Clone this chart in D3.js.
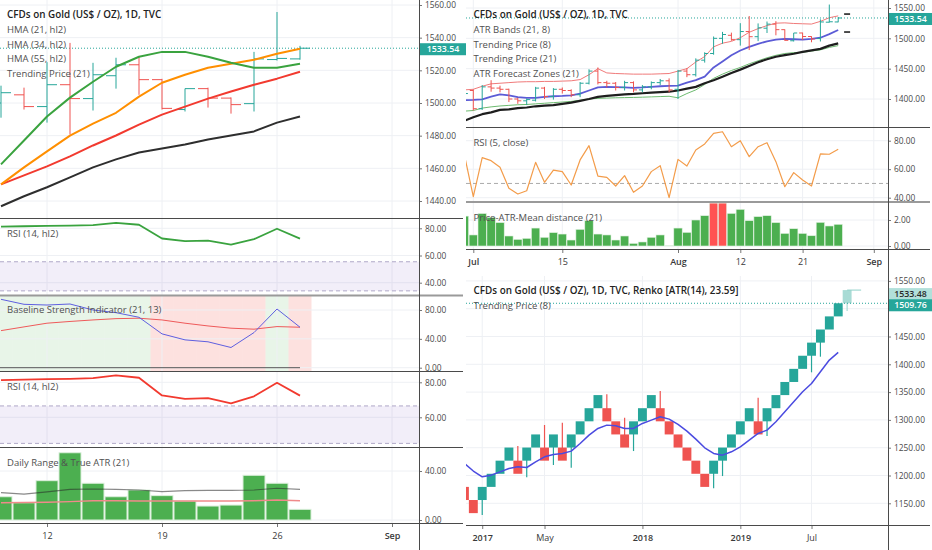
<!DOCTYPE html>
<html>
<head>
<meta charset="utf-8">
<script src="https://cdn.jsdelivr.net/npm/d3@7"></script>
<style>
  body { margin: 0; background: #fff; }
</style>
</head>
<body>
<script>
// ---- daily data, Jun 28 .. Aug 27 2019 (index 0 = Jun 28) ----
var dates = ["2019-06-28",
  "2019-07-01","2019-07-02","2019-07-03","2019-07-04","2019-07-05",
  "2019-07-08","2019-07-09","2019-07-10","2019-07-11","2019-07-12",
  "2019-07-15","2019-07-16","2019-07-17","2019-07-18","2019-07-19",
  "2019-07-22","2019-07-23","2019-07-24","2019-07-25","2019-07-26",
  "2019-07-29","2019-07-30","2019-07-31","2019-08-01","2019-08-02",
  "2019-08-05","2019-08-06","2019-08-07","2019-08-08","2019-08-09",
  "2019-08-12","2019-08-13","2019-08-14","2019-08-15","2019-08-16",
  "2019-08-19","2019-08-20","2019-08-21","2019-08-22","2019-08-23",
  "2019-08-26","2019-08-27"];

var open  = [1409, 1414, 1384, 1420, 1418, 1416, 1400, 1397, 1398, 1418, 1404, 1416, 1414, 1407, 1426, 1446,
  1427, 1426, 1419, 1427, 1415, 1420, 1427, 1430, 1416, 1446, 1440, 1464, 1475, 1500, 1505,
  1497.8, 1511.2, 1502.7, 1516.7, 1523.4, 1514.3, 1496, 1508.8, 1503, 1499.6, 1526.6, 1527];
var high  = [1416, 1416, 1423, 1431, 1422, 1417, 1402, 1401, 1420, 1420, 1418, 1419, 1416, 1428, 1449, 1452,
  1430, 1428, 1430, 1429, 1423, 1429, 1433, 1434, 1448, 1451, 1467, 1477, 1503, 1510.6, 1509.4,
  1525, 1536.8, 1524.6, 1527.7, 1528.3, 1514.8, 1508.8, 1509.4, 1503.4, 1531.3, 1555.7, 1535];
var low   = [1405, 1381, 1382, 1412, 1411, 1395, 1392, 1390, 1396, 1400, 1399, 1409, 1403, 1403, 1424, 1424,
  1419, 1414, 1414, 1411, 1411, 1416, 1423, 1411, 1400, 1436, 1437, 1460, 1473, 1491, 1496,
  1488, 1480.7, 1495.4, 1508.8, 1505, 1496, 1494.8, 1497.2, 1493.5, 1494.8, 1526, 1526.5];
var close = [1409, 1384, 1420, 1418, 1416, 1400, 1397, 1399, 1418, 1404, 1416, 1414, 1407, 1426, 1446, 1427,
  1426, 1419, 1427, 1415, 1420, 1427, 1430, 1415, 1446, 1440, 1464, 1475, 1500, 1506.3, 1497.8,
  1511.2, 1502.7, 1517.3, 1523.4, 1514.3, 1496.7, 1508.8, 1503, 1499, 1527, 1527.3, 1533.54];

var atrUpper = [1415, 1416, 1421, 1425, 1426, 1427, 1428, 1428.5, 1428.5, 1429, 1429, 1429.5, 1430, 1432, 1440, 1450,
  1443, 1442, 1441.5, 1441, 1441, 1441, 1441.5, 1442, 1446, 1450, 1461, 1470, 1486, 1492, 1495,
  1501, 1510, 1516, 1521, 1525, 1525.5, 1524.5, 1524, 1523.5, 1528, 1534, 1537];
var atrLower = [1380, 1381, 1385, 1387, 1388.5, 1389.5, 1390.5, 1391, 1392, 1393, 1394, 1395, 1396, 1398, 1400, 1401,
  1401.5, 1402, 1402.3, 1402.6, 1403, 1403.5, 1404, 1404.5, 1402, 1409, 1415, 1424, 1434, 1441, 1447,
  1452, 1458, 1463, 1468, 1472, 1475, 1476.5, 1477, 1479, 1481, 1485, 1488];
var trend8 = [1398, 1398.5, 1399.5, 1404, 1407.5, 1406, 1403, 1402, 1402, 1403.5, 1404.5, 1405, 1406, 1409, 1414, 1419,
  1420, 1419.5, 1419, 1418.5, 1419, 1420, 1421, 1421.5, 1422, 1427, 1431, 1437, 1452, 1462, 1472,
  1480, 1486, 1491, 1495, 1498, 1499, 1498.5, 1498, 1499, 1501, 1507, 1513.7];
var trend21 = [1364, 1370, 1375, 1378, 1382, 1383, 1385, 1386, 1388, 1389, 1390, 1392, 1394, 1397, 1400, 1403.5,
  1405, 1406.5, 1407.5, 1408.3, 1409.5, 1410.5, 1411.3, 1412, 1414, 1417, 1420, 1426, 1431, 1436.8, 1442.9,
  1448.4, 1454.5, 1460.6, 1465.5, 1469.7, 1472.2, 1474.6, 1477.7, 1480.1, 1482.6, 1488, 1491.7];
var forecastZones = [1540, 1510.4]; // for Aug 28 (index 43)

var rsi5 = [70, 40.7, 68.1, 66, 61.3, 46.6, 42.6, 44.9, 64.8, 50.8, 59.4, 58.3, 48.9, 66.5, 76.5, 55.2,
  54.3, 48.2, 55.5, 43.8, 48.2, 58.3, 62.5, 40, 66.9, 62.2, 73.5, 77.7, 85.2, 86.3, 75.8,
  80, 68.8, 75.8, 78.6, 65.3, 47.7, 57.6, 52.4, 48.2, 70.7, 70.5, 74];
var meanDistance = [2.3, 0.85, 2.5, 2.2, 1.8, 0.77, 0.51, 0.59, 1.38, 0.67, 1.03, 0.92, 0.46, 1.28, 1.95, 0.92,
  0.85, 0.46, 0.77, 0.2, 0.31, 0.67, 0.85, 0.03, 1.38, 1.05, 2.0, 2.33, 3.3, 3.3, 2.51,
  2.82, 1.95, 2.26, 2.33, 1.8, 0.97, 1.33, 0.97, 0.79, 1.82, 1.54, 1.67];

// ---- left chart: Aug 8 .. Aug 27 (indices 29..42) ----
var leftFirst = 29;
var hma21 = [1462.4, 1477, 1491.7, 1503.3, 1513, 1522.2, 1528.3, 1531.3, 1531.3, 1528.3, 1524.6, 1521.6, 1521.6, 1524];
var hma34 = [1450.2, 1460.6, 1470.4, 1480, 1487.4, 1494, 1503.9, 1512.4, 1517.3, 1521.6, 1524, 1526.5, 1530.1, 1533.2];
var hma55 = [1450.2, 1455.7, 1461.2, 1467.3, 1474, 1480.1, 1486.8, 1492.9, 1497.8, 1502.7, 1507, 1511.2, 1514.9, 1519.1];
var rsi14 = [81.2, 81.5, 81.8, 82, 82.4, 84, 82.6, 72.5, 70.5, 71, 68, 72, 79.7, 72.4];
var bsiFast = [94.8, 87.9, 86.9, 88.3, 80, 76.3, 69.9, 46.9, 38.6, 35.9, 28, 48.7, 81.4, 56.1];
var bsiSlow = [51.4, 56.6, 61.7, 64.1, 66.2, 68, 68.6, 66.2, 61.7, 57.9, 54.8, 53.4, 57, 56.1];
var bsiZone = ["up", "up", "up", "up", "up", "up", "up", "down", "down", "down", "down", "down", "up", "down"];
var dailyRange = [19, 14.1, 32.1, 54.9, 30, 19, 24.5, 19.9, 15.5, 11.4, 12.2, 36.5, 30, 8.7];
var trueAtr = [22.3, 21.2, 22.9, 25, 25.3, 25, 24.5, 23.1, 23.9, 24.2, 24.2, 24.5, 25.9, 25];
var rangeAvg = [14.1, 14.2, 14.4, 15, 15.8, 15.8, 15.6, 15.5, 15.5, 15.5, 15.5, 15.8, 16.3, 15.8];
var rsiBand1 = [34, 55.4];
var rsiBand2 = [45.1, 66.5];

// time axis ticks (trading-day index)
var leftTicks = [31, 36, 41, 46], leftTickLabels = ["12", "19", "26", "Sep"];
var rightTicks = [1, 11, 24, 31, 38, 46], rightTickLabels = ["Jul", "15", "Aug", "12", "21", "Sep"];

// ---- renko (ATR 14, box 23.59) ----
var renkoOpen = [1179.50, 1155.91, 1155.91, 1179.50, 1203.09, 1226.68, 1226.68, 1226.68, 1250.27, 1250.27, 1250.27,
  1250.27, 1250.27, 1273.86, 1297.45, 1321.04, 1321.04, 1297.45, 1273.86, 1273.86, 1297.45, 1321.04, 1321.04,
  1297.45, 1273.86, 1250.27, 1226.68, 1203.09, 1203.09, 1226.68, 1250.27, 1273.86, 1297.45, 1297.45, 1297.45,
  1321.04, 1344.63, 1368.22, 1391.81, 1415.40, 1438.99, 1462.58, 1486.17, 1509.76];
var renkoClose = [1155.91, 1132.32, 1179.50, 1203.09, 1226.68, 1250.27, 1203.09, 1250.27, 1273.86, 1226.68, 1273.86,
  1226.68, 1273.86, 1297.45, 1321.04, 1344.63, 1297.45, 1273.86, 1250.27, 1297.45, 1321.04, 1344.63, 1297.45,
  1273.86, 1250.27, 1226.68, 1203.09, 1179.50, 1226.68, 1250.27, 1273.86, 1297.45, 1321.04, 1273.86, 1321.04,
  1344.63, 1368.22, 1391.81, 1415.40, 1438.99, 1462.58, 1486.17, 1509.76, 1533.48];
var renkoWick = [null, null, 1129, null, null, null, 1253, 1197, null, 1290.8, 1218.9, 1295, 1214, null, null, null,
  1346, null, 1304, 1244, null, null, 1352, null, null, null, null, null, 1177, 1199, null, null, null,
  1340, 1271, null, null, null, null, 1385.6, 1413.7, null, null, 1495.9];
var renkoTrend8 = [1221.9, 1208, 1197.6, 1200.6, 1206.6, 1212.6, 1215.6, 1214.4, 1224.6, 1233.6, 1237.8, 1239.6,
  1243.8, 1257.6, 1272.6, 1284.6, 1290.6, 1289.4, 1284.6, 1284.6, 1293.6, 1299.6, 1305.6, 1301.4, 1291.8,
  1279.8, 1265.4, 1249.8, 1239.6, 1236.6, 1242.6, 1251.6, 1263.6, 1275.6, 1281.6, 1296.6, 1314.6, 1332.6,
  1350.6, 1365.6, 1386.6, 1407.6, 1421.4];
var renkoTicks = [2, 9, 20, 31, 39], renkoTickLabels = ["2017", "May", "2018", "2019", "Jul"];

// ---------------------------------------------------------------
var TEAL = "#26a69a", RED = "#ef5350", GRID = "#eef0f4", LINE = "#4a4a4a";
var FONT = "'Open Sans', sans-serif";
var fmt = d3.format(".2f");

var svg = d3.select("body").append("svg")
    .attr("width", 932).attr("height", 550)
    .style("font-family", FONT);
var defs = svg.append("defs");

var nClip = 0;
function clipG(x0, y0, x1, y1) {
    var id = "clip" + nClip++;
    defs.append("clipPath").attr("id", id)
        .append("rect").attr("x", x0).attr("y", y0).attr("width", x1 - x0).attr("height", y1 - y0);
    return svg.append("g").attr("clip-path", "url(#" + id + ")");
}

function grid(g, y, ticks, xs, x0, x1, y0, y1) {
    g.selectAll(null).data(ticks).enter().append("line")
        .attr("x1", x0).attr("x2", x1)
        .attr("y1", d => y(d)).attr("y2", d => y(d))
        .attr("stroke", GRID);
    g.selectAll(null).data(xs).enter().append("line")
        .attr("x1", d => d).attr("x2", d => d)
        .attr("y1", y0).attr("y2", y1)
        .attr("stroke", GRID);
}

function series(g, x, y, values, start, color, width) {
    g.append("path").datum(values)
        .attr("d", d3.line().x((d, i) => x(start + i)).y(d => y(d)))
        .attr("fill", "none").attr("stroke", color)
        .attr("stroke-width", width).attr("stroke-linejoin", "round");
}

function ohlc(g, x, y, from, to, tick) {
    var idx = d3.range(from, to + 1);
    var b = g.selectAll(null).data(idx).enter().append("g")
        .attr("stroke", i => close[i] >= open[i] ? TEAL : RED)
        .attr("stroke-width", 1);
    b.append("line").attr("x1", i => x(i)).attr("x2", i => x(i))
        .attr("y1", i => y(high[i])).attr("y2", i => y(low[i]));
    b.append("line").attr("x1", i => x(i) - tick).attr("x2", i => x(i))
        .attr("y1", i => y(open[i])).attr("y2", i => y(open[i]));
    b.append("line").attr("x1", i => x(i)).attr("x2", i => x(i) + tick)
        .attr("y1", i => y(close[i])).attr("y2", i => y(close[i]));
}

// y axis on the right; labels hidden where a price tag covers them
function yAxis(y, ticks, ax, y0, y1, tags) {
    var shown = ticks.filter(t => !(tags || []).some(c => Math.abs(y(t) - c) < 8));
    var g = clipG(ax, y0, ax + 47, y1);
    g.append("g").attr("transform", "translate(" + ax + ",0)")
        .call(d3.axisRight(y).tickValues(shown).tickFormat(fmt).tickSize(3).tickPadding(3))
        .call(a => {
            a.select(".domain").remove();
            a.selectAll("line").attr("stroke", "#777");
            a.selectAll("text").attr("font-size", 8.4).attr("fill", "#4a4a4a").attr("font-family", FONT);
        });
}

function xAxis(x, ticks, labels, yPos, isBold) {
    svg.append("g").attr("transform", "translate(0," + yPos + ")")
        .call(d3.axisBottom(x).tickValues(ticks).tickFormat((d, i) => labels[i]).tickSize(3).tickPadding(6))
        .call(a => {
            a.select(".domain").remove();
            a.selectAll("line").attr("stroke", "#777");
            a.selectAll("text").attr("font-size", 9).attr("fill", "#3a3a3a").attr("font-family", FONT)
                .attr("font-weight", (d, i) => isBold(labels[i]) ? 600 : 400);
        });
}

function legend(x, y, lines, titled) {
    var g = svg.append("g");
    lines.forEach((t, i) => {
        var head = titled && i === 0;
        g.append("text").attr("x", x).attr("y", y + i * 14.6).attr("dy", "0.35em")
            .attr("font-size", head ? 9.9 : 9.5)
            .attr("font-weight", head ? 600 : 400)
            .attr("fill", head ? "#222" : "#505050")
            .text(t);
    });
}

function hline(y, x0, x1, color, w) {
    svg.append("line").attr("x1", x0).attr("x2", x1).attr("y1", y).attr("y2", y)
        .attr("stroke", color).attr("stroke-width", w);
}

function tag(x, yc, w, label, fill, color) {
    svg.append("rect").attr("x", x).attr("y", yc - 6).attr("width", w).attr("height", 12).attr("fill", fill);
    svg.append("text").attr("x", x + w / 2).attr("y", yc).attr("dy", "0.35em")
        .attr("text-anchor", "middle").attr("font-size", 8.8).attr("font-weight", 600)
        .attr("fill", color).text(label);
}

function band(g, y, range, x0, x1) {
    g.append("rect").attr("x", x0).attr("width", x1 - x0)
        .attr("y", y(range[1])).attr("height", y(range[0]) - y(range[1]))
        .attr("fill", "#7e57c2").attr("fill-opacity", 0.1);
    g.selectAll(null).data(range).enter().append("line")
        .attr("x1", x0).attr("x2", x1).attr("y1", d => y(d)).attr("y2", d => y(d))
        .attr("stroke", "#b0a8c8").attr("stroke-dasharray", "4,3");
}

var isMonth = s => isNaN(+s);
var last = close.length - 1;

// =================== LEFT CHART ===================
var xL = d3.scaleLinear().domain([31, 46]).range([47, 392]);
var leftGridX = leftTicks.map(xL);
var LX1 = 419;

// main price pane
var yMainL = d3.scaleLinear().domain([1440, 1560]).range([201, 5]);
var ticksMainL = [1440, 1460, 1480, 1500, 1520, 1540, 1560];
var tagL = yMainL(close[last]) + 1;
var gML = clipG(0, 0, LX1, 218);
grid(gML, yMainL, ticksMainL, leftGridX, 0, LX1, 0, 218);
gML.append("line").attr("x1", 0).attr("x2", LX1)
    .attr("y1", yMainL(close[last])).attr("y2", yMainL(close[last]))
    .attr("stroke", TEAL).attr("stroke-dasharray", "1,2");
ohlc(gML, xL, yMainL, leftFirst, last, 10);
series(gML, xL, yMainL, trend21.slice(leftFirst), leftFirst, "#2e2e2e", 2);
series(gML, xL, yMainL, hma55, leftFirst, "#f23a2f", 2);
series(gML, xL, yMainL, hma34, leftFirst, "#ff8f00", 2);
series(gML, xL, yMainL, hma21, leftFirst, "#3aa33f", 2);
yAxis(yMainL, ticksMainL, LX1, 0, 218, [tagL]);
legend(7, 15, ["CFDs on Gold (US$ / OZ), 1D, TVC", "HMA (21, hl2)", "HMA (34, hl2)", "HMA (55, hl2)", "Trending Price (21)"], true);

// RSI pane 1
var yR1 = d3.scaleLinear().domain([40, 80]).range([282.7, 228.3]);
var gR1 = clipG(0, 218, LX1, 295);
grid(gR1, yR1, [40, 60, 80], leftGridX, 0, LX1, 218, 295);
band(gR1, yR1, rsiBand1, 0, LX1);
series(gR1, xL, yR1, rsi14, leftFirst, "#3aa33f", 1.8);
yAxis(yR1, [40, 60, 80], LX1, 218, 295);
legend(7, 233.3, ["RSI (14, hl2)"], false);

// Baseline strength pane
var yB = d3.scaleLinear().domain([0, 80]).range([367.7, 310]);
var gB = clipG(0, 296, LX1, 371);
gB.selectAll(null).data(bsiZone).enter().append("rect")
    .attr("x", (d, i) => xL(leftFirst + i) - 11.5).attr("width", 23)
    .attr("y", 296).attr("height", 75)
    .attr("fill", d => d === "up" ? "#4caf50" : "#f44336")
    .attr("fill-opacity", d => d === "up" ? 0.13 : 0.16);
grid(gB, yB, [0, 40, 80], leftGridX, 0, LX1, 296, 371);
gB.append("line").attr("x1", 0).attr("x2", xL(last))
    .attr("y1", yB(0)).attr("y2", yB(0)).attr("stroke", "#555").attr("stroke-width", 1);
series(gB, xL, yB, bsiSlow, leftFirst, "#ef5a5a", 1);
series(gB, xL, yB, bsiFast, leftFirst, "#5f5fe0", 1);
yAxis(yB, [0, 40, 80], LX1, 296, 371);
legend(7, 310, ["Baseline Strength Indicator (21, 13)"], false);

// RSI pane 2
var yR2 = d3.scaleLinear().domain([60, 80]).range([417.3, 382.3]);
var gR2 = clipG(0, 371, LX1, 447);
grid(gR2, yR2, [60, 80], leftGridX, 0, LX1, 371, 447);
band(gR2, yR2, rsiBand2, 0, LX1);
series(gR2, xL, yR2, rsi14, leftFirst, "#f23a2f", 1.8);
yAxis(yR2, [60, 80], LX1, 371, 447);
legend(7, 386.7, ["RSI (14, hl2)"], false);

// Daily range & ATR pane
var yA = d3.scaleLinear().domain([0, 40]).range([520, 471]);
var gA = clipG(0, 447, LX1, 523);
grid(gA, yA, [0, 40], leftGridX, 0, LX1, 447, 523);
gA.selectAll(null).data(dailyRange).enter().append("rect")
    .attr("x", (d, i) => xL(leftFirst + i) - 11).attr("width", 22)
    .attr("y", d => yA(d)).attr("height", d => yA(0) - yA(d))
    .attr("fill", "#4caf50").attr("stroke", "#dcefdc").attr("stroke-width", 1);
series(gA, xL, yA, rangeAvg, leftFirst, "#f08a8a", 1.5);
series(gA, xL, yA, trueAtr, leftFirst, "rgba(40,40,40,0.55)", 1.2);
yAxis(yA, [0, 40], LX1, 447, 523);
legend(7, 462.7, ["Daily Range & True ATR (21)"], false);

// left separators and axis
hline(218.5, 0, 463, LINE, 1);
hline(295.5, 0, 463, "#9a9a9a", 2);
hline(371.5, 0, 463, LINE, 1);
hline(447.5, 0, 463, LINE, 1);
hline(523.5, 0, 463, LINE, 1);
svg.append("line").attr("x1", LX1 + 0.5).attr("x2", LX1 + 0.5).attr("y1", 0).attr("y2", 550).attr("stroke", LINE);
xAxis(xL, leftTicks, leftTickLabels, 524, isMonth);
tag(420, tagL, 46, fmt(close[last]), TEAL, "#fff");

// =================== RIGHT DAILY CHART ===================
var xR = d3.scaleLinear().domain([1, 46]).range([473.3, 873.8]);
var rightGridX = rightTicks.map(xR);
var RX0 = 466, RX1 = 888;

var yMainR = d3.scaleLinear().domain([1400, 1550]).range([99, 8]);
var ticksMainR = [1400, 1450, 1500, 1550];
var tagR = yMainR(close[last]) + 1;
var gMR = clipG(RX0, 0, RX1, 127);
grid(gMR, yMainR, ticksMainR, rightGridX, RX0, RX1, 0, 127);
gMR.append("line").attr("x1", RX0).attr("x2", RX1)
    .attr("y1", yMainR(close[last])).attr("y2", yMainR(close[last]))
    .attr("stroke", TEAL).attr("stroke-dasharray", "1,2");
series(gMR, xR, yMainR, atrLower, 0, "#6dbb70", 1);
series(gMR, xR, yMainR, trend21, 0, "#1e1e1e", 2.2);
series(gMR, xR, yMainR, trend8, 0, "#5b5bd6", 1.8);
series(gMR, xR, yMainR, atrUpper, 0, "#f07a7a", 1);
ohlc(gMR, xR, yMainR, 0, last, 3.5);
gMR.selectAll(null).data(forecastZones).enter().append("line")
    .attr("x1", xR(last + 1) - 3).attr("x2", xR(last + 1) + 3)
    .attr("y1", d => yMainR(d)).attr("y2", d => yMainR(d))
    .attr("stroke", "#222").attr("stroke-width", 1.6);
yAxis(yMainR, ticksMainR, RX1, 0, 127, [tagR]);
legend(473.5, 15, ["CFDs on Gold (US$ / OZ), 1D, TVC", "ATR Bands (21, 8)", "Trending Price (8)", "Trending Price (21)", "ATR Forecast Zones (21)"], true);

// RSI 5
var yR5 = d3.scaleLinear().domain([40, 80]).range([197.7, 140.7]);
var gR5 = clipG(RX0, 128, RX1, 201);
grid(gR5, yR5, [40, 60, 80], rightGridX, RX0, RX1, 128, 201);
gR5.append("line").attr("x1", RX0).attr("x2", RX1).attr("y1", yR5(50)).attr("y2", yR5(50))
    .attr("stroke", "#aaa").attr("stroke-dasharray", "4,3");
series(gR5, xR, yR5, rsi5, 0, "#f39c4a", 1.2);
yAxis(yR5, [40, 60, 80], RX1, 128, 201);
legend(473.5, 142.7, ["RSI (5, close)"], false);

// Price-ATR-Mean distance
var yH = d3.scaleLinear().domain([0, 2]).range([246, 220]);
var gH = clipG(RX0, 203, RX1, 249);
grid(gH, yH, [0, 2], rightGridX, RX0, RX1, 203, 249);
gH.selectAll(null).data(meanDistance).enter().append("rect")
    .attr("x", (d, i) => xR(i) - 4.2).attr("width", 8.4)
    .attr("y", d => yH(d)).attr("height", d => yH(0) - yH(d))
    .attr("fill", d => d > 3 ? "#ff5252" : "#4caf50")
    .attr("stroke", "#e3f2e3").attr("stroke-width", 0.6);
yAxis(yH, [0, 2], RX1, 203, 249);
legend(473.5, 217.3, ["Price-ATR-Mean distance (21)"], false);

hline(127.5, RX0, 930, LINE, 1);
hline(202, RX0, 930, "#9a9a9a", 2);
hline(249.5, RX0, 930, LINE, 1);
xAxis(xR, rightTicks, rightTickLabels, 250, isMonth);
tag(889, tagR, 43, fmt(close[last]), TEAL, "#fff");

// =================== RENKO ===================
var xK = d3.scaleLinear().domain([0, 43]).range([464.43, 847.13]);
var yK = d3.scaleLinear().domain([1150, 1550]).range([503.3, 280.9]);
var ticksK = [1150, 1200, 1250, 1300, 1350, 1400, 1450, 1500, 1550];
var lastK = renkoClose.length - 1;
var tagK1 = yK(renkoClose[lastK]) + 4, tagK2 = yK(renkoOpen[lastK]) + 2;
var gK = clipG(RX0, 276, RX1, 525);
grid(gK, yK, ticksK, renkoTicks.map(xK), RX0, RX1, 276, 525);
var brickColor = (i) => i === lastK ? "#a8dbd5" : (renkoClose[i] > renkoOpen[i] ? TEAL : RED);
gK.selectAll(null).data(d3.range(renkoWick.length).filter(i => renkoWick[i] !== null)).enter().append("line")
    .attr("x1", i => xK(i)).attr("x2", i => xK(i))
    .attr("y1", i => yK(renkoWick[i])).attr("y2", i => yK((renkoOpen[i] + renkoClose[i]) / 2))
    .attr("stroke", brickColor).attr("stroke-width", 1.2);
gK.selectAll(null).data(renkoOpen).enter().append("rect")
    .attr("x", (d, i) => xK(i) - 4.45).attr("width", 8.9)
    .attr("y", (d, i) => yK(Math.max(d, renkoClose[i])))
    .attr("height", (d, i) => Math.abs(yK(d) - yK(renkoClose[i])))
    .attr("fill", (d, i) => brickColor(i));
gK.append("line").attr("x1", xK(lastK)).attr("x2", xK(lastK) + 14)
    .attr("y1", yK(renkoClose[lastK])).attr("y2", yK(renkoClose[lastK]))
    .attr("stroke", "#8fd0c8").attr("stroke-width", 1);
gK.append("line").attr("x1", RX0).attr("x2", RX1)
    .attr("y1", yK(renkoOpen[lastK])).attr("y2", yK(renkoOpen[lastK]))
    .attr("stroke", TEAL).attr("stroke-dasharray", "1,2");
series(gK, xK, yK, renkoTrend8, 0, "#4b4be0", 1.5);
yAxis(yK, ticksK, RX1, 276, 525, [tagK1, tagK2]);
legend(473.5, 291, ["CFDs on Gold (US$ / OZ), 1D, TVC, Renko [ATR(14), 23.59]", "Trending Price (8)"], true);
hline(525.5, RX0, 930, LINE, 1);
xAxis(xK, renkoTicks, renkoTickLabels, 526, s => s.length === 4);
tag(889, tagK1, 43, fmt(renkoClose[lastK]), "#b2e0da", "#2a2a2a");
tag(889, tagK2, 43, fmt(renkoOpen[lastK]), TEAL, "#fff");

svg.append("line").attr("x1", RX1 + 0.5).attr("x2", RX1 + 0.5).attr("y1", 0).attr("y2", 550).attr("stroke", LINE);
</script>
</body>
</html>
